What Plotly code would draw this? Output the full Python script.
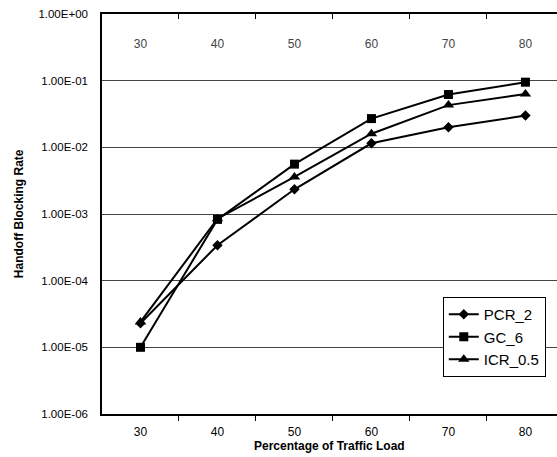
import plotly.graph_objects as go

loads = [30, 40, 50, 60, 70, 80]
pcr_2 = [2.3e-5, 3.4e-4, 2.35e-3, 1.15e-2, 2.0e-2, 3.0e-2]
gc_6 = [1.0e-5, 8.3e-4, 5.6e-3, 2.7e-2, 6.2e-2, 9.5e-2]
icr_05 = [2.4e-5, 8.5e-4, 3.6e-3, 1.6e-2, 4.3e-2, 6.3e-2]
y_tickvals = [1e0, 1e-1, 1e-2, 1e-3, 1e-4, 1e-5, 1e-6]
y_ticktext = ["1.00E+00", "1.00E-01", "1.00E-02", "1.00E-03", "1.00E-04", "1.00E-05", "1.00E-06"]
x_minor = [35, 45, 55, 65, 75]

FONT = "Liberation Sans, Arial, sans-serif"
fig = go.Figure()
series = [("PCR_2", pcr_2, "diamond", 8), ("GC_6", gc_6, "square", 9), ("ICR_0.5", icr_05, "triangle-up", 10)]
for name, vals, sym, sz in series:
    fig.add_trace(go.Scatter(x=loads, y=vals, name=name, mode="lines+markers",
                             line=dict(color="black", width=2),
                             marker=dict(symbol=sym, size=sz, color="black")))
# invisible trace to carry top axis
fig.add_trace(go.Scatter(x=loads, y=pcr_2, xaxis="x2", yaxis="y", showlegend=False,
                         mode="markers", marker=dict(opacity=0), hoverinfo="skip"))

xr = [25, 84.1]
fig.update_layout(
    width=557, height=457,
    margin=dict(l=102, r=0, t=14, b=43),
    paper_bgcolor="white", plot_bgcolor="white",
    font=dict(family=FONT, color="black", size=11),
    xaxis=dict(range=xr, tickvals=loads, ticktext=[str(v) for v in loads],
               ticks="", showgrid=False, zeroline=False,
               showline=True, linecolor="black", linewidth=1.5,
               tickfont=dict(size=12), ticklabelstandoff=6,
               minor=dict(tickvals=x_minor, ticks="outside", ticklen=5,
                          tickcolor="black", showgrid=False)),
    xaxis2=dict(range=xr, overlaying="x", side="top", tickvals=loads,
                ticktext=[str(v) for v in loads], ticks="", showgrid=False,
                zeroline=False, showline=True, linecolor="black", linewidth=1.5,
                ticklabelposition="inside", tickfont=dict(size=12),
                ticklabelstandoff=25, ticklabeloverflow="allow",
                minor=dict(tickvals=x_minor, ticks="inside", ticklen=5,
                           tickcolor="black", showgrid=False)),
    yaxis=dict(type="log", range=[-6.0005, 0.0005], tickvals=y_tickvals, ticktext=y_ticktext,
               showgrid=True, gridcolor="#444", gridwidth=1.2, zeroline=False,
               showline=True, linecolor="black", linewidth=1.5, ticks="",
               tickfont=dict(size=11.5), ticklabelstandoff=10,
               ticklabeloverflow="allow"),
    legend=dict(x=0.749, y=0.2925, xanchor="left", yanchor="top",
                bordercolor="black", borderwidth=1, bgcolor="white",
                font=dict(size=15, family=FONT), tracegroupgap=0,
                itemwidth=30),
    showlegend=True,
    annotations=[
        dict(text="<b>Percentage of Traffic Load</b>", xref="paper", yref="paper",
             x=0.5, y=-0.08, xanchor="center", yanchor="middle", showarrow=False,
             font=dict(size=12)),
        dict(text="<b>Handoff Blocking Rate</b>", xref="paper", yref="paper",
             x=-0.182, y=0.5, xanchor="center", yanchor="middle", showarrow=False,
             textangle=-90, font=dict(size=12)),
    ],
)
fig.write_html("out.html")
